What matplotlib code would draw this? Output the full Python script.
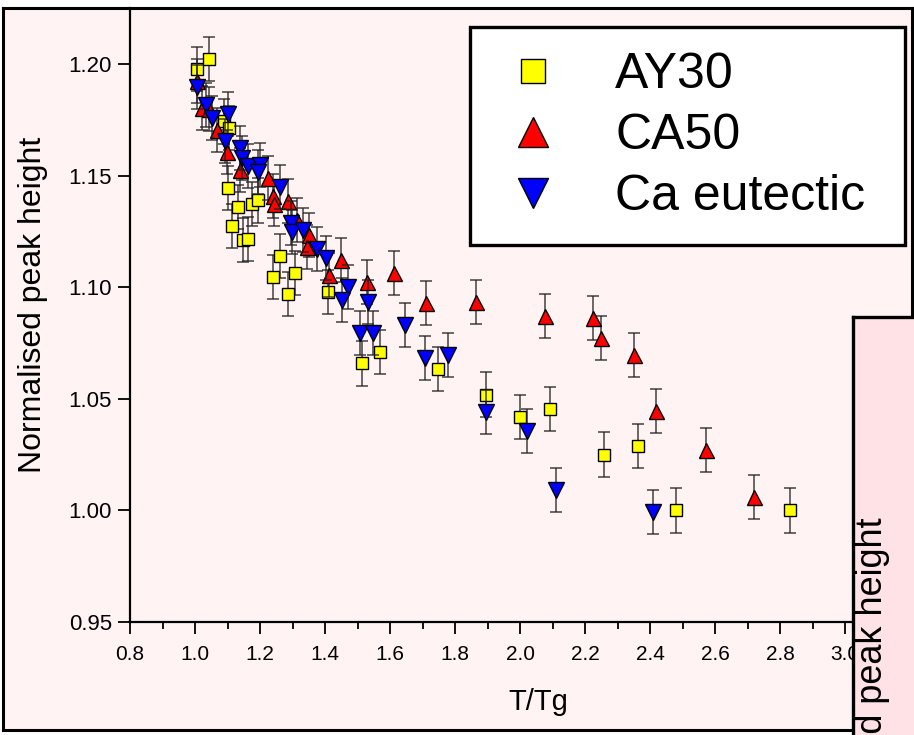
import matplotlib
matplotlib.use("Agg")
import matplotlib.pyplot as plt

plt.rcParams["font.family"] = ["Liberation Sans", "DejaVu Sans"]

# AY30 (yellow squares)
ay30_x = [1.006, 1.043, 1.090, 1.105, 1.102, 1.114, 1.132, 1.148, 1.163, 1.175,
          1.194, 1.240, 1.262, 1.286, 1.308, 1.409, 1.514, 1.569, 1.748, 1.895,
          2.000, 2.092, 2.258, 2.363, 2.480, 2.830]
ay30_y = [1.198, 1.2025, 1.1745, 1.1715, 1.1446, 1.1276, 1.1361, 1.1213, 1.1217, 1.1374,
          1.139, 1.1047, 1.1141, 1.0971, 1.1065, 1.098, 1.066, 1.071, 1.0635, 1.052,
          1.042, 1.0455, 1.025, 1.029, 1.000, 1.000]

# CA50 (red up triangles)
ca50_x = [1.006, 1.022, 1.043, 1.068, 1.098, 1.138, 1.225, 1.240, 1.243, 1.286,
          1.314, 1.351, 1.345, 1.449, 1.412, 1.529, 1.612, 1.711, 1.865, 2.077,
          2.225, 2.249, 2.351, 2.418, 2.572, 2.720]
ca50_y = [1.1926, 1.1805, 1.1800, 1.1706, 1.1608, 1.1527, 1.1491, 1.1410, 1.1374, 1.1388,
          1.1303, 1.1235, 1.1182, 1.1123, 1.1056, 1.1025, 1.1065, 1.0930, 1.0935, 1.0872,
          1.0863, 1.0774, 1.0697, 1.0446, 1.0271, 1.0061]

# Ca eutectic (blue down triangles)
caeu_x = [1.006, 1.034, 1.052, 1.102, 1.092, 1.138, 1.145, 1.163, 1.200, 1.194,
          1.262, 1.295, 1.298, 1.332, 1.375, 1.403, 1.471, 1.452, 1.532, 1.646,
          1.508, 1.548, 1.708, 1.778, 1.895, 2.022, 2.111, 2.409]
caeu_y = [1.1899, 1.1818, 1.1760, 1.1778, 1.1657, 1.1626, 1.1581, 1.1545, 1.1549, 1.1518,
          1.1451, 1.1289, 1.1249, 1.1258, 1.1173, 1.1132, 1.1002, 1.0944, 1.0935, 1.0832,
          1.0796, 1.0796, 1.0684, 1.0697, 1.0442, 1.0356, 1.0092, 0.9993]

err = 0.01

W, H = 914, 735
fig = plt.figure(figsize=(W / 100, H / 100), dpi=100, facecolor="white")

# page frame behind everything
frame = fig.add_axes([3 / W, 5 / H, 909 / W, 722 / H])
frame.set_zorder(-1)
frame.set_facecolor("#fff4f3")
frame.set_xticks([])
frame.set_yticks([])
for sp in frame.spines.values():
    sp.set_linewidth(2.2)

ax = fig.add_axes([130 / W, (H - 622) / H, (912 - 130) / W, (622 - 8) / H])
ax.set_zorder(1)
ax.set_facecolor("none")
ax.set_xlim(0.8, 3.206)
ax.set_ylim(0.95, 1.2253)

series = [
    (ay30_x, ay30_y, "s", "#ffff00", 8.6, "AY30"),
    (ca50_x, ca50_y, "^", "#ff0000", 10.8, "CA50"),
    (caeu_x, caeu_y, "v", "#0000ff", 11.0, "Ca eutectic"),
]
for xs, ys, mk, col, ms, lab in series:
    ax.errorbar(xs, ys, yerr=err, fmt="none", ecolor="#222222", elinewidth=1.1,
                capsize=4.6, capthick=1.1, alpha=0.85)
    ax.plot(xs, ys, ls="none", marker=mk, ms=ms, mfc=col, mec="black", mew=1.0, label=lab)

ax.set_xticks([0.8, 1.0, 1.2, 1.4, 1.6, 1.8, 2.0, 2.2, 2.4, 2.6, 2.8, 3.0])
ax.set_xticklabels(["0.8", "1.0", "1.2", "1.4", "1.6", "1.8", "2.0", "2.2", "2.4",
                    "2.6", "2.8", "3.0"])
ax.set_xticks([0.9, 1.1, 1.3, 1.5, 1.7, 1.9, 2.1, 2.3, 2.5, 2.7, 2.9], minor=True)
ax.set_yticks([0.95, 1.00, 1.05, 1.10, 1.15, 1.20])
ax.set_yticklabels(["0.95", "1.00", "1.05", "1.10", "1.15", "1.20"])
ax.tick_params(axis="x", which="major", length=8.5, width=1.3, labelsize=15, pad=8)
ax.tick_params(axis="x", which="minor", length=5, width=1.3)
ax.tick_params(axis="y", which="major", length=9, width=1.3, labelsize=16, pad=4)

for side in ("top", "right"):
    ax.spines[side].set_visible(False)
for side in ("left", "bottom"):
    ax.spines[side].set_linewidth(1.6)

ax.set_ylabel("Normalised peak height", fontsize=23)
ax.yaxis.set_label_coords(-0.105, 0.516)
ax.set_xlabel("T/Tg", fontsize=21)
ax.xaxis.set_label_coords(0.522, -0.107)

leg = ax.legend(loc="upper left", bbox_to_anchor=(0.435, 0.969, 0.556, 0.0), mode="expand",
                fontsize=36, markerscale=2.0, frameon=True, fancybox=False, framealpha=1,
                edgecolor="black", facecolor="white", borderpad=0.5, labelspacing=0.3,
                handlelength=1.5, handletextpad=0.9, borderaxespad=0)
leg.get_frame().set_linewidth(2.4)

# neighbouring panel cut off at the right
ax2 = fig.add_axes([853 / W, -0.05, 0.2, (H - 317) / H + 0.05])
ax2.set_zorder(5)
ax2.set_facecolor("#ffe2e6")
ax2.set_xticks([])
ax2.set_yticks([])
for sp in ax2.spines.values():
    sp.set_linewidth(2.4)
ax2.text(872 / W, (H - 517) / H, "Normalised peak height", transform=fig.transFigure,
         rotation=90, ha="center", va="top", fontsize=26)

fig.savefig("out.png", dpi=100, facecolor=fig.get_facecolor())
